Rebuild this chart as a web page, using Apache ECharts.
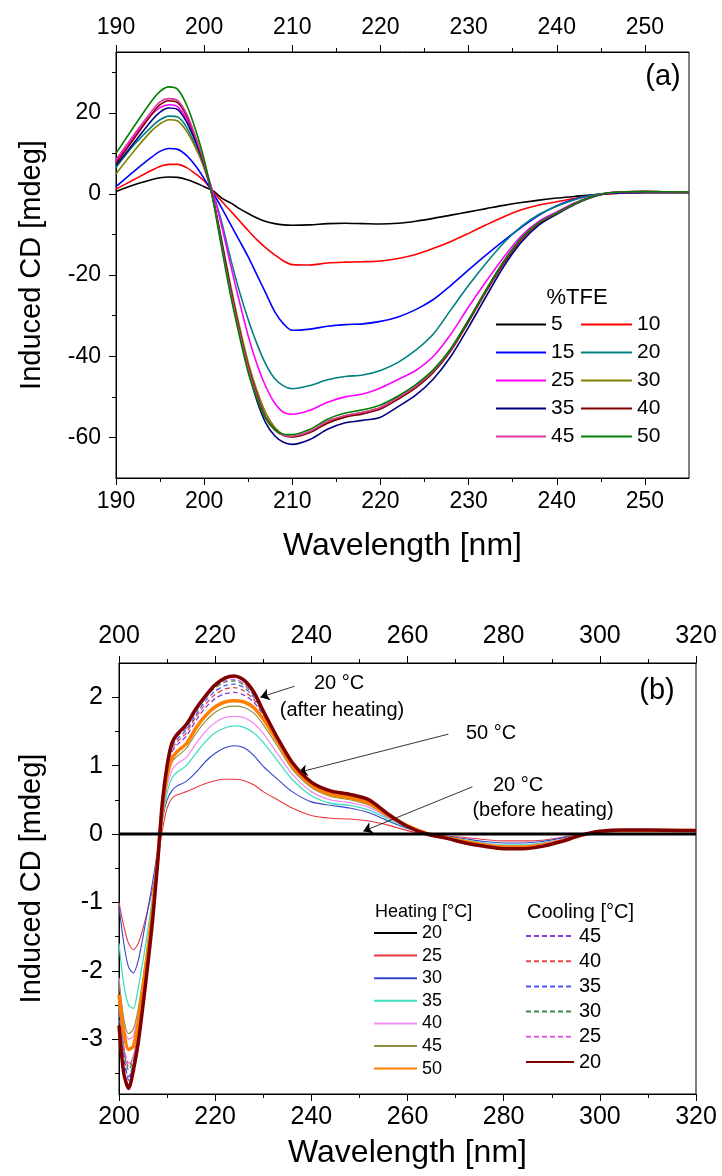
<!DOCTYPE html>
<html>
<head>
<meta charset="utf-8">
<script src="https://cdn.jsdelivr.net/npm/echarts@6/dist/echarts.min.js"></script>
<style>
html,body{margin:0;padding:0;background:#fff;}
#chart{width:722px;height:1176px;}
</style>
</head>
<body>
<div id="chart"></div>
<script>
// ---------- Panel (a): %TFE series ----------
const WL_A = [190,192,194,195,196,197,198,199,200,201,202,203,204,205,206,207,208,209,210,212,214,216,218,220,222,224,226,228,230,232,234,236,238,240,242,244,246,250,255];
const CD_5  = [0.6,2.2,3.5,4.0,4.2,4.1,3.6,2.8,1.8,0.8,-1.0,-2.2,-3.6,-4.8,-5.9,-6.8,-7.3,-7.6,-7.7,-7.6,-7.3,-7.2,-7.3,-7.4,-7.2,-6.7,-6.0,-5.2,-4.4,-3.6,-2.8,-2.1,-1.5,-1.0,-0.6,-0.2,0.1,0.3,0.3];
const CD_10 = [1.2,3.5,5.8,6.8,7.3,7.3,6.5,5.0,3.2,0.6,-1.8,-4.2,-6.6,-9.0,-11.3,-13.3,-15.0,-16.5,-17.4,-17.5,-17.0,-16.8,-16.7,-16.5,-15.9,-14.9,-13.4,-11.7,-9.7,-7.6,-5.6,-3.9,-2.7,-1.9,-1.1,-0.4,0.1,0.4,0.4];
const CD_15 = [1.8,5.5,9.0,10.5,11.2,11.0,9.5,7.0,3.8,0.3,-3.5,-7.5,-11.5,-15.5,-20.0,-24.5,-29.0,-32.0,-33.6,-33.3,-32.6,-32.2,-32.0,-31.4,-30.3,-28.5,-26.0,-22.5,-18.7,-15.0,-11.5,-8.2,-5.2,-2.9,-1.3,-0.3,0.2,0.4,0.4];
const CD_20 = [6.5,12.0,16.5,18.3,19.2,19.0,16.5,12.0,6.5,0.3,-7.0,-16.0,-24.0,-31.0,-37.0,-42.0,-45.5,-47.3,-48.0,-47.2,-45.8,-45.0,-44.6,-43.5,-41.5,-38.5,-34.5,-28.5,-22.5,-17.0,-12.0,-8.0,-5.0,-3.0,-1.4,-0.3,0.3,0.6,0.5];
const CD_25 = [8.0,14.0,19.5,21.3,22.0,21.5,18.5,13.5,7.5,0.3,-8.0,-17.5,-26.5,-35.0,-42.0,-47.5,-51.5,-53.8,-54.3,-53.3,-51.3,-50.0,-49.3,-47.8,-45.7,-43.5,-40.0,-34.5,-27.8,-21.5,-15.5,-10.3,-6.7,-4.4,-2.2,-0.6,0.3,0.6,0.5];
const CD_30 = [5.0,10.5,15.5,17.3,18.3,18.0,15.5,11.5,6.5,-1.0,-11.5,-22.5,-32.5,-41.5,-48.5,-54.0,-57.5,-59.3,-59.8,-58.6,-56.2,-54.7,-53.8,-52.6,-50.2,-47.4,-43.7,-38.2,-31.2,-23.8,-16.8,-11.0,-7.1,-4.8,-2.5,-0.7,0.3,0.6,0.5];
const CD_35 = [7.0,12.5,18.0,20.2,21.2,20.8,17.8,13.0,7.2,-1.0,-12.0,-23.5,-34.0,-43.5,-51.0,-56.5,-59.6,-61.2,-61.7,-60.5,-58.0,-56.4,-55.8,-55.0,-52.4,-49.6,-45.6,-40.0,-32.8,-25.2,-17.8,-11.8,-7.6,-5.0,-2.6,-0.8,0.2,0.5,0.5];
const CD_40 = [7.5,13.5,19.5,22.0,23.0,22.5,19.3,14.0,7.5,-1.2,-12.5,-23.5,-33.5,-42.5,-49.5,-55.0,-58.0,-59.5,-59.9,-58.8,-56.5,-55.0,-54.2,-53.0,-50.6,-47.8,-44.0,-38.6,-31.5,-24.0,-17.0,-11.2,-7.2,-4.8,-2.5,-0.7,0.3,0.6,0.5];
const CD_45 = [8.5,14.5,20.3,22.7,23.5,23.0,19.8,14.3,7.7,-1.2,-12.8,-24.0,-34.0,-43.0,-50.0,-55.3,-58.2,-59.5,-59.7,-58.5,-56.0,-54.6,-53.8,-52.6,-50.2,-47.4,-43.6,-38.2,-31.0,-23.6,-16.6,-10.9,-7.0,-4.7,-2.4,-0.7,0.3,0.6,0.5];
const CD_50 = [10.0,16.5,22.8,25.3,26.4,25.8,22.0,16.0,8.5,-1.5,-13.5,-25.0,-35.0,-44.0,-50.5,-55.5,-58.0,-59.2,-59.3,-58.0,-55.5,-54.0,-53.2,-52.0,-49.8,-47.0,-43.3,-38.0,-31.0,-23.5,-16.5,-10.8,-7.0,-4.7,-2.4,-0.7,0.3,0.6,0.5];
const TFE_NAMES = ['5','10','15','20','25','30','35','40','45','50'];
const A_X_MAJOR = [190,200,210,220,230,240,250];
const A_X_MINOR = [195,205,215,225,235,245];
const A_Y_MAJOR = [-60,-40,-20,0,20];
const A_Y_MINOR = [-50,-30,-10,10,30];

// ---------- Panel (b): temperature series ----------
const WL_B = [200,201,202,203,204,205,206,207,208,209,210,211,212,214,216,218,220,222,224,226,228,230,233,236,240,244,248,252,256,260,264,268,272,276,280,284,288,292,296,300,305,310,320];
const H20 = [0,0,0,0,0,0,0,0,0,0,0,0,0,0,0,0,0,0,0,0,0,0,0,0,0,0,0,0,0,0,0,0,0,0,0,0,0,0,0,0,0,0,0];
const H25 = [-1.0,-1.35,-1.6,-1.69,-1.6,-1.38,-1.1,-0.8,-0.4,0.05,0.38,0.52,0.57,0.62,0.68,0.74,0.78,0.8,0.8,0.78,0.72,0.62,0.5,0.38,0.27,0.23,0.22,0.19,0.13,0.05,-0.01,-0.03,-0.05,-0.08,-0.1,-0.1,-0.09,-0.05,-0.01,0.02,0.04,0.04,0.04];
const H30 = [-1.05,-1.6,-1.95,-2.03,-1.85,-1.5,-1.1,-0.7,-0.25,0.2,0.5,0.63,0.7,0.77,0.9,1.06,1.18,1.26,1.29,1.26,1.15,0.99,0.8,0.62,0.47,0.42,0.38,0.31,0.19,0.08,0.01,-0.03,-0.07,-0.11,-0.13,-0.13,-0.11,-0.06,-0.01,0.03,0.04,0.05,0.05];
const H35 = [-1.6,-2.2,-2.5,-2.55,-2.25,-1.85,-1.4,-0.9,-0.35,0.2,0.6,0.82,0.9,1.0,1.18,1.35,1.48,1.55,1.58,1.56,1.48,1.34,1.07,0.8,0.56,0.45,0.42,0.35,0.22,0.09,0.01,-0.04,-0.09,-0.13,-0.16,-0.16,-0.13,-0.08,-0.02,0.03,0.05,0.05,0.05];
const H40 = [-2.1,-2.75,-3.0,-2.95,-2.6,-2.15,-1.65,-1.1,-0.45,0.25,0.7,0.93,1.02,1.12,1.32,1.5,1.63,1.7,1.72,1.7,1.62,1.47,1.17,0.88,0.62,0.5,0.46,0.39,0.24,0.1,0.01,-0.05,-0.1,-0.14,-0.17,-0.17,-0.14,-0.08,-0.02,0.03,0.05,0.05,0.05];
const H45 = [-2.15,-2.7,-2.92,-2.85,-2.55,-2.1,-1.6,-1.05,-0.4,0.3,0.8,1.05,1.13,1.25,1.47,1.65,1.78,1.85,1.87,1.85,1.77,1.6,1.28,0.95,0.68,0.55,0.5,0.42,0.26,0.11,0.01,-0.05,-0.1,-0.15,-0.18,-0.18,-0.15,-0.09,-0.02,0.03,0.05,0.05,0.05];
const H50 = [-2.35,-2.9,-3.15,-3.1,-2.75,-2.25,-1.7,-1.1,-0.4,0.35,0.85,1.1,1.2,1.32,1.55,1.73,1.86,1.93,1.95,1.93,1.85,1.68,1.35,1.0,0.72,0.58,0.53,0.45,0.27,0.12,0.01,-0.05,-0.11,-0.16,-0.19,-0.19,-0.16,-0.1,-0.02,0.03,0.05,0.05,0.05];
const C45 = [-2.5,-3.2,-3.6,-3.35,-2.95,-2.4,-1.8,-1.2,-0.45,0.4,0.95,1.2,1.3,1.43,1.66,1.85,1.98,2.05,2.07,2.03,1.93,1.74,1.38,1.03,0.74,0.6,0.55,0.47,0.28,0.11,0.0,-0.06,-0.12,-0.17,-0.2,-0.2,-0.17,-0.1,-0.02,0.04,0.06,0.06,0.05];
const C40 = [-2.4,-3.1,-3.4,-3.25,-2.9,-2.38,-1.8,-1.2,-0.45,0.42,0.97,1.24,1.34,1.48,1.71,1.9,2.04,2.12,2.14,2.09,1.97,1.76,1.39,1.04,0.75,0.61,0.56,0.48,0.28,0.11,0.0,-0.06,-0.12,-0.17,-0.2,-0.2,-0.17,-0.1,-0.02,0.04,0.06,0.06,0.05];
const C35 = [-2.6,-3.3,-3.55,-3.35,-2.95,-2.42,-1.83,-1.2,-0.45,0.43,0.98,1.27,1.38,1.52,1.75,1.95,2.09,2.17,2.19,2.14,2.0,1.78,1.4,1.04,0.75,0.61,0.56,0.48,0.28,0.11,0.0,-0.06,-0.12,-0.17,-0.2,-0.2,-0.17,-0.1,-0.02,0.04,0.06,0.06,0.05];
const C30 = [-2.45,-3.15,-3.45,-3.3,-2.95,-2.42,-1.85,-1.22,-0.45,0.44,1.0,1.3,1.42,1.55,1.79,1.99,2.14,2.22,2.24,2.18,2.03,1.79,1.4,1.04,0.75,0.61,0.56,0.48,0.28,0.11,0.0,-0.06,-0.12,-0.17,-0.2,-0.2,-0.17,-0.1,-0.02,0.04,0.06,0.06,0.05];
const C25 = [-2.5,-3.1,-3.35,-3.25,-2.9,-2.4,-1.85,-1.22,-0.45,0.44,1.0,1.3,1.42,1.56,1.8,2.0,2.16,2.24,2.26,2.2,2.05,1.8,1.41,1.05,0.76,0.61,0.56,0.48,0.28,0.11,0.0,-0.06,-0.12,-0.17,-0.2,-0.2,-0.17,-0.1,-0.02,0.04,0.06,0.06,0.05];
const C20 = [-2.8,-3.5,-3.72,-3.45,-3.05,-2.5,-1.9,-1.25,-0.45,0.45,1.0,1.33,1.45,1.6,1.83,2.02,2.18,2.28,2.31,2.25,2.08,1.8,1.4,1.05,0.76,0.63,0.58,0.5,0.29,0.11,0.0,-0.06,-0.13,-0.18,-0.215,-0.215,-0.18,-0.11,-0.02,0.04,0.06,0.06,0.05];
const HEAT_NAMES = ['H20','H25','H30','H35','H40','H45','H50'];
const COOL_NAMES = ['C45','C40','C35','C30','C25','C20'];
const B_X_MAJOR = [200,220,240,260,280,300,320];
const B_X_MINOR = [210,230,250,270,290,310];
const B_Y_MAJOR = [-3,-2,-1,0,1,2];
const B_Y_MINOR = [-3.5,-2.5,-1.5,-0.5,0.5,1.5];

// ---------- helpers ----------
const FONT = '"Liberation Sans", Arial, sans-serif';
const pairs = (xs, ys) => xs.map((x, i) => [x, ys[i]]);

function axis(grid, pos, min, max, ticks, len, labelSize, margin, extra) {
  const major = labelSize > 0;
  return Object.assign({
    type: 'value', gridIndex: grid, position: pos, min: min, max: max,
    axisLine: { show: major, onZero: false, lineStyle: { color: '#000', width: 1 } },
    axisTick: { show: true, inside: false, length: len, customValues: ticks, lineStyle: { color: '#000', width: 1 } },
    axisLabel: major ? { show: true, customValues: ticks, fontSize: labelSize, color: '#000', fontFamily: FONT, margin: margin } : { show: false },
    splitLine: { show: false },
    silent: true
  }, extra || {});
}

const xAxes = [
  axis(0, 'bottom', 190, 255, A_X_MAJOR, 7, 23, 12, {
    name: 'Wavelength [nm]', nameLocation: 'middle', nameGap: 52,
    nameTextStyle: { fontSize: 32, color: '#000', fontFamily: FONT } }),
  axis(0, 'top', 190, 255, A_X_MAJOR, 7, 23, 13),
  axis(0, 'bottom', 190, 255, A_X_MINOR, 4, 0, 0),
  axis(0, 'top', 190, 255, A_X_MINOR, 4, 0, 0),
  axis(1, 'bottom', 200, 320, B_X_MAJOR, 7, 25, 11, {
    name: 'Wavelength [nm]', nameLocation: 'middle', nameGap: 43,
    nameTextStyle: { fontSize: 32, color: '#000', fontFamily: FONT } }),
  axis(1, 'top', 200, 320, B_X_MAJOR, 7, 25, 14),
  axis(1, 'bottom', 200, 320, B_X_MINOR, 4, 0, 0),
  axis(1, 'top', 200, 320, B_X_MINOR, 4, 0, 0)
];
const yAxes = [
  axis(0, 'left', -70, 35, A_Y_MAJOR, 7, 23, 15, {
    name: 'Induced CD [mdeg]', nameLocation: 'middle', nameGap: 70,
    nameTextStyle: { fontSize: 29, color: '#000', fontFamily: FONT } }),
  axis(0, 'left', -70, 35, A_Y_MINOR, 4, 0, 0),
  axis(1, 'left', -3.8, 2.5, B_Y_MAJOR, 7, 25, 16, {
    name: 'Induced CD [mdeg]', nameLocation: 'middle', nameGap: 73,
    nameTextStyle: { fontSize: 29, color: '#000', fontFamily: FONT } }),
  axis(1, 'left', -3.8, 2.5, B_Y_MINOR, 4, 0, 0)
];

// panel (a) series
const A_DEF = [
  [CD_5, '#000000'], [CD_10, '#ff0000'], [CD_15, '#0000ff'], [CD_20, '#008080'], [CD_25, '#ff00ff'],
  [CD_30, '#808000'], [CD_35, '#000080'], [CD_40, '#800000'], [CD_45, '#e0359f'], [CD_50, '#008000']
];
const seriesA = A_DEF.map(([d, c], i) => ({
  type: 'line', name: TFE_NAMES[i], xAxisIndex: 0, yAxisIndex: 0,
  data: pairs(WL_A, d), symbol: 'none', showSymbol: false, smooth: 0.3,
  color: c, lineStyle: { color: c, width: 1.6 }, itemStyle: { color: c },
  silent: true, animation: false
}));

// panel (b) series
function bSeries(name, d, c, w, dashed, z) {
  return {
    type: 'line', name: name, xAxisIndex: 4, yAxisIndex: 2,
    data: pairs(WL_B, d), symbol: 'none', showSymbol: false, smooth: 0.25,
    color: c, lineStyle: { color: c, width: w, type: dashed ? [5, 3] : 'solid' },
    itemStyle: { color: c }, z: z, silent: true, animation: false
  };
}
const seriesB = [
  bSeries('H25', H25, '#e8393f', 1.1, false, 2),
  bSeries('H30', H30, '#3344cc', 1.1, false, 2),
  bSeries('H35', H35, '#3fe0c0', 1.3, false, 2),
  bSeries('H40', H40, '#f28ef0', 1.3, false, 2),
  bSeries('H45', H45, '#8e8e3c', 1.1, false, 2),
  bSeries('C45', C45, '#7f3fe0', 1.3, true, 3),
  bSeries('C40', C40, '#e84848', 1.3, true, 3),
  bSeries('C35', C35, '#4a5af2', 1.3, true, 3),
  bSeries('C30', C30, '#3a8c46', 1.3, true, 3),
  bSeries('C25', C25, '#e060e0', 1.3, true, 3),
  bSeries('H50', H50, '#ff8000', 3.5, false, 4),
  bSeries('C20', C20, '#800000', 3.5, false, 5),
  bSeries('H20', H20, '#000000', 3, false, 6)
];
// annotation arrows (data coordinates)
seriesB[seriesB.length - 1].markLine = {
  silent: true, animation: false, symbol: ['none', 'arrow'], symbolSize: 9,
  label: { show: false },
  lineStyle: { color: '#000', width: 0.8, type: 'solid' },
  emphasis: { disabled: true },
  data: [
    [{ coord: [236.5, 2.16] }, { coord: [229.4, 2.0] }],
    [{ coord: [268.5, 1.46] }, { coord: [237.3, 0.90] }],
    [{ coord: [273.5, 0.69] }, { coord: [250.8, 0.04] }]
  ]
};

function txt(s, x, y, size, align) {
  return { type: 'text', silent: true, z: 100,
    style: { text: s, x: x, y: y, fill: '#000', font: size + 'px ' + FONT,
      align: align || 'center', verticalAlign: 'middle' } };
}

const LEG_ITEM = { opacity: 0 };
const option = {
  animation: false,
  backgroundColor: '#fff',
  grid: [
    { left: 116, top: 52, width: 573, height: 426, show: true, borderColor: '#000', borderWidth: 1, backgroundColor: 'transparent' },
    { left: 119, top: 663, width: 577, height: 431, show: true, borderColor: '#000', borderWidth: 1, backgroundColor: 'transparent' }
  ],
  xAxis: xAxes,
  yAxis: yAxes,
  legend: [
    { data: ['5','15','25','35','45'], orient: 'vertical', left: 495, top: 314, padding: 0,
      itemWidth: 50, itemHeight: 14, itemGap: 7, selectedMode: false, itemStyle: LEG_ITEM,
      textStyle: { fontSize: 21, lineHeight: 20, color: '#000', fontFamily: FONT } },
    { data: ['10','20','30','40','50'], orient: 'vertical', left: 580, top: 314, padding: 0,
      itemWidth: 51, itemHeight: 14, itemGap: 7, selectedMode: false, itemStyle: LEG_ITEM,
      textStyle: { fontSize: 21, lineHeight: 20, color: '#000', fontFamily: FONT } },
    { data: HEAT_NAMES, orient: 'vertical', left: 373, top: 924, padding: 0,
      itemWidth: 43, itemHeight: 12, itemGap: 4.6, selectedMode: false, itemStyle: LEG_ITEM,
      formatter: n => n.slice(1),
      textStyle: { fontSize: 18, lineHeight: 18, color: '#000', fontFamily: FONT } },
    { data: COOL_NAMES, orient: 'vertical', left: 525, top: 926, padding: 0,
      itemWidth: 48, itemHeight: 12, itemGap: 5.2, selectedMode: false, itemStyle: LEG_ITEM,
      formatter: n => n.slice(1),
      textStyle: { fontSize: 20, lineHeight: 20, color: '#000', fontFamily: FONT } }
  ],
  graphic: [
    txt('(a)', 663, 77, 29),
    txt('(b)', 657, 691, 29),
    txt('%TFE', 577, 298, 22),
    txt('Heating [°C]', 375, 912, 18, 'left'),
    txt('Cooling [°C]', 527, 912, 20, 'left'),
    txt('20 °C', 339, 683, 20),
    txt('(after heating)', 342, 710, 20),
    txt('50 °C', 491, 733, 20),
    txt('20 °C', 518, 785, 20),
    txt('(before heating)', 543, 810, 20)
  ],
  series: seriesA.concat(seriesB)
};

const chart = echarts.init(document.getElementById('chart'), null, { renderer: 'canvas', width: 722, height: 1176 });
chart.setOption(option);
</script>
</body>
</html>
